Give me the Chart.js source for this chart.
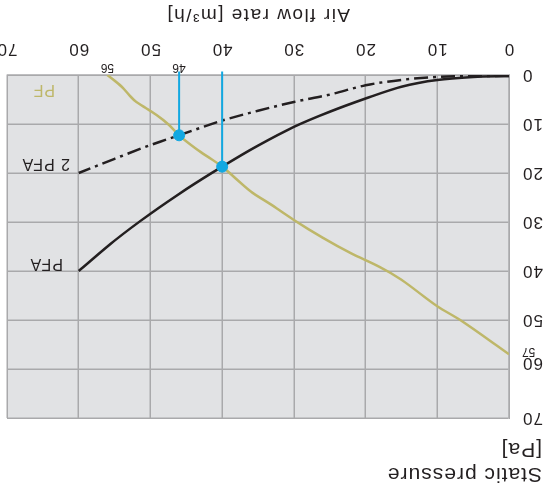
<!DOCTYPE html>
<html>
<head>
<meta charset="utf-8">
<script src="https://cdn.jsdelivr.net/npm/chart.js@4.4.1/dist/chart.umd.min.js"></script>
<style>
  html, body { margin: 0; padding: 0; background: #fff; }
  /* the reference picture is upside down, so the whole chart is turned */
  #wrap { width: 550px; height: 495px; transform: rotate(180deg); }
</style>
</head>
<body>
<div id="wrap"><canvas id="fanChart" width="550" height="495"></canvas></div>
<script>
// filter curves and fan curve
const flowPFA   = [0, 5, 10, 15, 20, 25, 30, 35, 40, 45, 50, 55, 60];
const pressPFA  = [0.2, 0.4, 1.0, 2.4, 4.8, 7.5, 10.6, 14.4, 18.7, 23.3, 28.3, 33.8, 40];
const flow2PFA  = [0, 5, 10, 15, 20, 25, 30, 35, 40, 46, 50, 55, 60];
const press2PFA = [0.2, 0.2, 0.4, 1.0, 2.1, 4.0, 5.5, 7.3, 9.3, 12.3, 14.3, 17.1, 20];
const flowPF    = [0, 6.8, 10, 15, 18, 22, 26, 30, 33, 36, 40, 43.3, 46, 47.4, 49.1, 50.9, 52.3, 54, 56];
const pressPF   = [57, 50, 47.2, 41.8, 39.2, 36.4, 33.2, 29.6, 26.6, 23.8, 18.7, 15.4, 12.3, 10.2, 8.2, 6.5, 5.1, 2.4, 0];
// operating points
const opFlow  = [40, 46];
const opPress = [18.7, 12.3];
const xTicks = [0, 10, 20, 30, 40, 50, 60, 70];
const yTicks = [0, 10, 20, 30, 40, 50, 60, 70];

const ink = '#231f20';
const olive = '#beb769';
const blue = '#12a8e1';
const gridCol = '#a9a9ab';
const leaderEnd = -0.7;
const fam = '"Liberation Sans", Arial, sans-serif';

const pts = (xs, ys) => xs.map((x, i) => ({ x: x, y: ys[i] }));

const leaders = opFlow.map((f, i) => ({
  type: 'scatter', showLine: true, clip: false, order: 1,
  data: [{ x: f, y: opPress[i] }, { x: f, y: leaderEnd }],
  borderColor: blue, borderWidth: 2, pointRadius: 0
}));

const paper = {
  id: 'paper',
  beforeDraw(chart) {
    const a = chart.chartArea, c = chart.ctx;
    c.save();
    c.fillStyle = '#e1e2e4';
    c.fillRect(a.left, a.top, a.right - a.left, a.bottom - a.top);
    c.restore();
    c.letterSpacing = '1px';
  },
  afterDraw(chart) {
    const c = chart.ctx, a = chart.chartArea;
    const x = chart.scales.x, y = chart.scales.y;
    const txt = (s, px, py, size, align, col, sp) => {
      c.save();
      c.font = size + 'px ' + fam;
      c.letterSpacing = sp || '0px';
      c.textAlign = align;
      c.textBaseline = 'middle';
      c.fillStyle = col || ink;
      c.fillText(s, px, py);
      c.restore();
    };
    txt('PFA', x.getPixelForValue(62.2), y.getPixelForValue(38.4), 16, 'left', ink, '1px');
    txt('2 PFA', x.getPixelForValue(61.2), y.getPixelForValue(18), 16, 'left', ink, '1px');
    txt('PF', x.getPixelForValue(63.3), y.getPixelForValue(3), 16, 'left', olive, '1px');
    txt('46', x.getPixelForValue(46), a.bottom + 8, 12, 'center');
    txt('56', x.getPixelForValue(56), a.bottom + 8, 12, 'center');
    txt('60', a.left - 13, y.getPixelForValue(60) + 6, 17, 'right', ink, '1px');
    txt('57', a.left - 13, y.getPixelForValue(57) + 3, 12, 'right');
    txt('Air flow rate [m³/h]', (a.left + a.right) / 2, 481, 19, 'center', ink, '1.5px');
    txt('Static pressure', 8, 21, 21, 'left', ink, '1px');
    txt('[Pa]', 8, 46, 21, 'left', ink, '1px');
  }
};

new Chart(document.getElementById('fanChart').getContext('2d'), {
  type: 'scatter',
  data: {
    datasets: [
      { label: 'PF', data: pts(flowPF, pressPF), showLine: true, borderColor: olive, borderWidth: 2.5,
        pointRadius: 0, cubicInterpolationMode: 'monotone', order: 4 },
      { label: 'PFA', data: pts(flowPFA, pressPFA), showLine: true, borderColor: ink, borderWidth: 2.5,
        pointRadius: 0, cubicInterpolationMode: 'monotone', order: 3 },
      { label: '2 PFA', data: pts(flow2PFA, press2PFA), showLine: true, borderColor: ink, borderWidth: 2.5,
        borderDash: [14, 5, 3, 5], pointRadius: 0, cubicInterpolationMode: 'monotone', order: 2 },
      ...leaders,
      { label: 'op', data: pts(opFlow, opPress), showLine: false, pointRadius: 5.5, order: 0,
        backgroundColor: blue, borderColor: blue, pointBackgroundColor: blue, pointBorderColor: blue,
        pointBorderWidth: 1, clip: false }
    ]
  },
  options: {
    responsive: false,
    animation: false,
    layout: { padding: { top: 77, right: 7, left: 0, bottom: 0 } },
    plugins: { legend: { display: false }, tooltip: { enabled: false } },
    scales: {
      x: {
        type: 'linear', min: 0, max: 70,
        afterBuildTicks: s => { s.ticks = xTicks.map(v => ({ value: v })); },
        afterFit: s => { s.height = 75; s.paddingLeft = 0; s.paddingRight = 0; },
        ticks: { color: ink, padding: 16, font: { size: 17, family: fam } },
        grid: { color: gridCol, lineWidth: 1.5, drawTicks: false },
        border: { color: gridCol, width: 1.5 }
      },
      y: {
        type: 'linear', min: 0, max: 70,
        afterBuildTicks: s => { s.ticks = yTicks.map(v => ({ value: v })); },
        afterFit: s => { s.width = 41; s.paddingTop = 0; s.paddingBottom = 0; },
        ticks: { color: ink, padding: 13, callback: v => (v === 60 ? '' : v),
                 font: { size: 17, family: fam } },
        grid: { color: gridCol, lineWidth: 1.5, drawTicks: false },
        border: { color: gridCol, width: 1.5 }
      }
    }
  },
  plugins: [paper]
});
</script>
</body>
</html>
